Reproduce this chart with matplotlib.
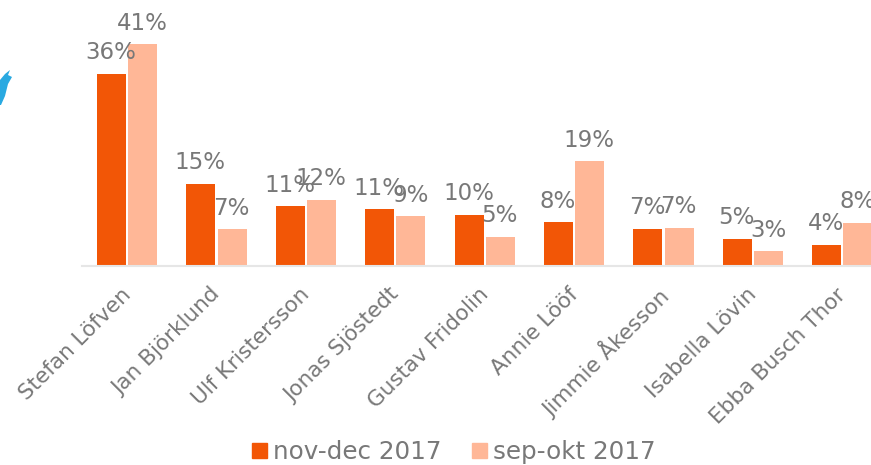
import matplotlib
matplotlib.use("Agg")
import matplotlib.pyplot as plt
import matplotlib.patches as patches
import numpy as np

names = ["Stefan Löfven", "Jan Björklund", "Ulf Kristersson", "Jonas Sjöstedt",
         "Gustav Fridolin", "Annie Lööf", "Jimmie Åkesson", "Isabella Lövin",
         "Ebba Busch Thor"]
nov_dec = [35.5, 15.2, 11.0, 10.5, 9.5, 8.1, 6.9, 5.0, 3.9]
sep_okt = [41.0, 6.8, 12.2, 9.2, 5.4, 19.3, 7.1, 2.7, 8.0]
nov_labels = ["36%", "15%", "11%", "11%", "10%", "8%", "7%", "5%", "4%"]
sep_labels = ["41%", "7%", "12%", "9%", "5%", "19%", "7%", "3%", "8%"]
bird_x = [0, 5, 10, 8, 12, 8, 5, 1, 0]
bird_y = [80, 74, 70, 75, 77, 84, 96, 105, 105]

W, H = 871, 465
plt.rcParams["font.family"] = ["DejaVu Sans"]
fig = plt.figure(figsize=(W / 100, H / 100), dpi=100)
ax = fig.add_axes([0, 0, 1, 1])
grey = "#787878"
orange = "#f25606"
peach = "#ffb797"

# x in pixels of the picture, y in percent
x0 = 82
step = 89.4
base = 266
per = (266 - 44) / 41.0
ax.set_xlim(0, W)
ax.set_ylim(-(H - base) / per, base / per)
ax.axis("off")

xs = x0 + step * (np.arange(len(names)) + 0.5)
ax.plot([x0, x0 + step * len(names)], [0, 0], color="#e6e6e6", lw=1.5)
ax.bar(xs - 15.2, nov_dec, 29, color=orange)
ax.bar(xs + 16, sep_okt, 29, color=peach)

for x, a, b, la, lb in zip(xs, nov_dec, sep_okt, nov_labels, sep_labels):
    ax.text(x - 15.7, a + 1.75, la, ha="center", va="bottom", fontsize=16.5, color=grey)
    ax.text(x + 15.5, b + 1.75, lb, ha="center", va="bottom", fontsize=16.5, color=grey)

for x, name in zip(xs, names):
    ax.text(x - 6, -3.4, name, rotation=45, ha="right", va="top", rotation_mode="anchor",
            fontsize=15.5, color=grey)

ax.legend(handles=[patches.Patch(color=orange, label="nov-dec 2017"),
                   patches.Patch(color=peach, label="sep-okt 2017")],
          loc="center", bbox_to_anchor=(454 / W, 1 - 452 / H), ncol=2, frameon=False,
          fontsize=17.7, labelcolor=grey, handlelength=0.6, handleheight=0.6,
          handletextpad=0.25, columnspacing=1.25, borderpad=0, borderaxespad=0)

# piece of the bird logo at the left edge, in picture pixels
bird = [(px / W, 1 - py / H) for px, py in zip(bird_x, bird_y)]
fig.add_artist(patches.Polygon(bird, closed=True, transform=fig.transFigure,
                               color="#29a9e1", lw=0))

fig.savefig("out.png", dpi=100)
